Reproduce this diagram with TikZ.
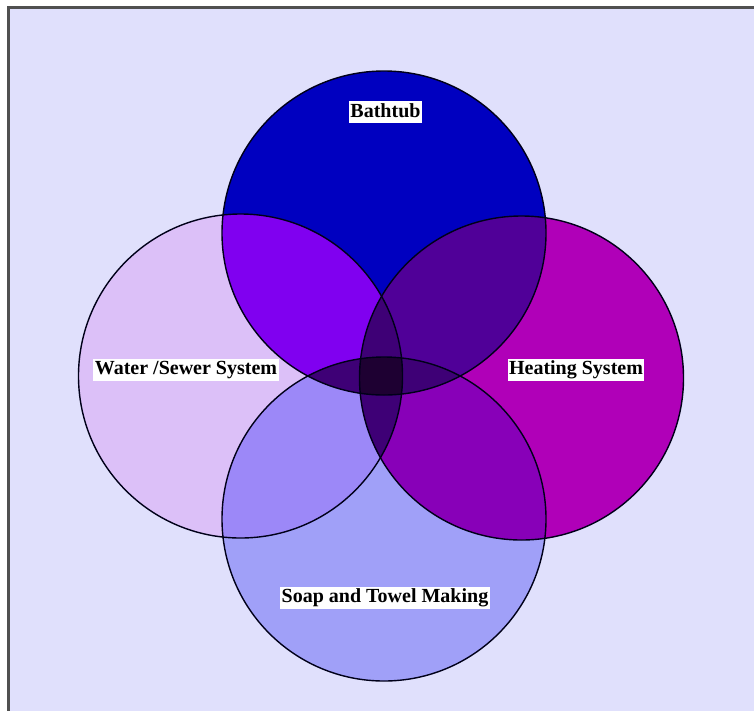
\documentclass[tikz,border=0pt]{standalone}
\usepackage{fontspec}
\setmainfont{Liberation Serif}
\definecolor{bgc}{HTML}{E0E0FC}
\definecolor{framec}{HTML}{505050}
\definecolor{ctop}{HTML}{0000C0}
\definecolor{cleft}{HTML}{DCC0F8}
\definecolor{cright}{HTML}{B000B8}
\definecolor{cbot}{HTML}{A0A0F8}
\definecolor{ctl}{HTML}{8000F0}
\definecolor{ctr}{HTML}{500098}
\definecolor{cbl}{HTML}{9C88F8}
\definecolor{cbr}{HTML}{8800B8}
\definecolor{ctriple}{HTML}{3E0076}
\definecolor{ccenter}{HTML}{1E0032}
\tikzset{
  outline/.style={draw=black!90!blue, line width=1.4pt},
  lbl/.style={fill=white, inner xsep=1.5pt, inner ysep=1pt, text height=15pt, text depth=5pt,
              font=\fontsize{20}{22}\selectfont\bfseries}
}
\begin{document}
\begin{tikzpicture}[x=1pt,y=-1pt]
\useasboundingbox (0,0) rectangle (754,710);
\fill[white] (0,0) rectangle (754,710);
\fill[bgc] (8.5,7.5) rectangle (770,720);
\draw[framec, line width=2.5pt] (8.5,7.5) rectangle (770,720);
\coordinate (T) at (384,233);
\coordinate (B) at (384,519);
\coordinate (L) at (240.5,376);
\coordinate (R) at (521.5,378);
\def\rad{162pt}
% single circles
\fill[ctop] (T) circle (\rad);
\fill[cleft] (L) circle (\rad);
\fill[cright] (R) circle (\rad);
\fill[cbot] (B) circle (\rad);
% pairwise
\begin{scope}\clip (T) circle (\rad); \fill[ctl] (L) circle (\rad); \fill[ctr] (R) circle (\rad); \end{scope}
\begin{scope}\clip (B) circle (\rad); \fill[cbl] (L) circle (\rad); \fill[cbr] (R) circle (\rad); \end{scope}
% triples
\begin{scope}\clip (T) circle (\rad); \clip (B) circle (\rad); \fill[ctriple] (T) circle (\rad); \end{scope}
\begin{scope}\clip (L) circle (\rad); \clip (R) circle (\rad); \fill[ctriple] (L) circle (\rad); \end{scope}
% all four
\begin{scope}\clip (T) circle (\rad); \clip (B) circle (\rad); \clip (L) circle (\rad); \fill[ccenter] (R) circle (\rad); \end{scope}
% outlines
\draw[outline] (T) circle (\rad);
\draw[outline] (L) circle (\rad);
\draw[outline] (R) circle (\rad);
\draw[outline] (B) circle (\rad);
% labels
\node[lbl] (bath) at (385.5,112) {Bathtub};
\node[lbl] (water) at (186,369.5) {Water /Sewer System};
\node[lbl] (heat) at (576,369.5) {Heating System};
\node[lbl] (soap) at (385,597.5) {Soap and Towel Making};
\end{tikzpicture}
\end{document}
